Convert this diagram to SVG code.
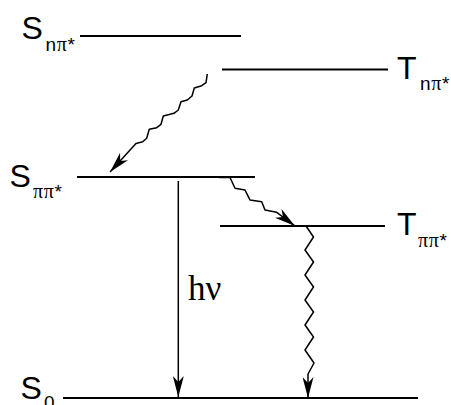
<svg xmlns="http://www.w3.org/2000/svg" width="451" height="405" viewBox="0 0 451 405">
<style>
.lvl{stroke:#000;stroke-width:2;fill:none}
.cap{font-family:"Liberation Sans",Arial,sans-serif;font-size:32px;fill:#000}
.sub{font-family:"Liberation Sans",Arial,sans-serif;font-size:19px;fill:#000}
.pi{font-family:"Liberation Serif","Times New Roman",serif;font-size:20px}
.hv{font-family:"Liberation Serif","Times New Roman",serif;font-size:35px;fill:#000}
.conn{stroke:#000;stroke-width:1.5;fill:none;stroke-linejoin:round;marker-end:url(#ah)}
</style>
<defs>
<marker id="ah" viewBox="0 0 21 11" refX="21" refY="5.5" markerWidth="21" markerHeight="11" markerUnits="userSpaceOnUse" orient="auto">
<path d="M0,0 L21,5.5 L0,11 L6,5.5 z" fill="#000"/>
</marker>
</defs>
<rect width="451" height="405" fill="#fff"/>
<g id="S_npi">
<line class="lvl" x1="80" y1="36" x2="241" y2="36"/>
<text class="cap" x="21.5" y="38.5">S</text>
<text class="sub" x="45.5" y="50.5" letter-spacing="0.6">n<tspan class="pi">π</tspan>*</text>
</g>
<g id="T_npi">
<line class="lvl" x1="222" y1="69.5" x2="388" y2="69.5"/>
<text class="cap" x="397" y="78.5">T</text>
<text class="sub" x="420" y="89.5" letter-spacing="0.6">n<tspan class="pi">π</tspan>*</text>
</g>
<g id="S_pipi">
<line class="lvl" x1="77" y1="177" x2="255" y2="177"/>
<text class="cap" x="9.5" y="186.5">S</text>
<text class="sub" x="33" y="197.5" letter-spacing="0.6"><tspan class="pi">ππ</tspan>*</text>
</g>
<g id="T_pipi">
<line class="lvl" x1="220" y1="226" x2="385" y2="226"/>
<text class="cap" x="397" y="234.5">T</text>
<text class="sub" x="418" y="246.5" letter-spacing="0.6"><tspan class="pi">ππ</tspan>*</text>
</g>
<g id="S_0">
<line class="lvl" x1="63" y1="398" x2="418" y2="398"/>
<text class="cap" x="20.5" y="398.5">S</text>
<text class="sub" x="44" y="409">0</text>
</g>
<g id="connectors">
<path class="conn" d="M207.3,74 L206,82.7 L201.7,85.7 L194.3,88 L192,96 L187.3,100 L181,101.7 L178.3,110 L174,113.3 L163.3,116 L161,124.3 L156.7,127.7 L149.3,129.3 L146.7,138.3 L142.7,141.7 L136,143.5 L110,172"/>
<path class="conn" d="M219,177.5 L230,177.5 L235,188.3 L245,190 L248.3,196.7 L250,200 L261.7,201.7 L265,210 L276.7,212.3 L295,226"/>
<path class="conn" d="M306,226 L313.5,237 L305,250 L313.5,262 L305,275 L313.5,287 L305,300 L313.5,312 L305,325 L313.5,337 L305,350 L314,363 L308,374 L308,398"/>
<line class="conn" x1="178.3" y1="181" x2="178.3" y2="397"/>
<text class="hv" x="188" y="300">hν</text>
</g>
</svg>
